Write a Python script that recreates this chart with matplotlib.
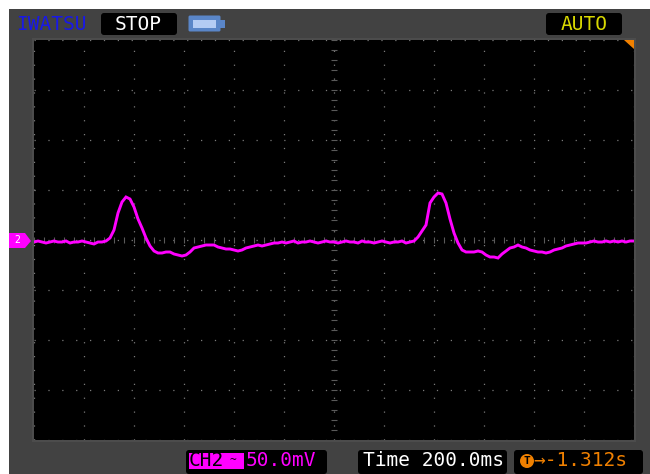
import matplotlib
matplotlib.use("Agg")
import matplotlib.pyplot as plt
import numpy as np
from matplotlib.patches import FancyBboxPatch, Polygon, Rectangle

plt.rcParams['font.family'] = ['DejaVu Sans Mono']

# ========== data ==========
# CH2 in mV (50 mV/div), one sample every 16 ms, 200 ms/div
ch2_mv = [
    -2, -1, -2, -3, -2, -1, -2, -2, -1, -3, -2, -2, -1, -2, -3, -4, -2, -2, -1,
    2, 10, 27, 38, 43, 41, 33, 21, 12, 2, -6, -11, -13, -13, -12, -12, -14, -15, -16, -15,
    -12, -8, -7, -6, -5, -5, -5, -7, -8, -9, -9, -10, -11, -10, -8, -7, -6, -5, -6, -5, -4, -3, -3,
    -2, -3, -2, -1, -3, -2, -2, -1, -2, -3, -2, -1, -2, -2, -3, -2, -1, -2, -2, -3, -1, -2, -2, -3, -2, -1, -2, -3, -2, -2, -1, -3, -2,
    -1, 3, 9, 15, 37, 43, 47, 46, 37, 21, 7, -3, -10, -12, -12, -12, -11, -12, -15, -17, -17, -18, -14, -11, -8,
    -7, -5, -7, -8, -10, -11, -12, -12, -13, -12, -10, -9, -8, -6, -5, -4, -3, -3, -3,
    -2, -1, -2, -2, -1, -2, -1, -2, -1, -2, -1, -1,
]
time_ms = np.arange(len(ch2_mv)) * 16

time_div = 200
volt_div = 50
n_xdiv = 12
n_ydiv = 8

grey = "#424242"
pink = "#ff00ff"
orange = "#f08000"
dots = "#7a7a7a"
label_size = 14

# ========== figure and case ==========
fig = plt.figure(figsize=(6.5, 4.74), dpi=100, facecolor="white")

# overlay in pixels for the case and the status boxes
case = fig.add_axes([0, 0, 1, 1], zorder=1)
case.set_xlim(0, 650)
case.set_ylim(474, 0)
case.axis("off")
case.add_patch(Rectangle((9, 9), 641, 465, color=grey, lw=0))
case.add_patch(Rectangle((32, 38), 604, 404, color="#4c4c4c", lw=0))


def box(x, y, w, h):
    case.add_patch(FancyBboxPatch((x + 3, y + 3), w - 6, h - 6, boxstyle="round,pad=3",
                                  fc="black", ec="none"))


box(101, 13, 76, 22)
box(546, 13, 76, 22)
box(186, 450, 141, 24)
box(358, 450, 149, 24)
box(514, 450, 129, 24)

case.text(16, 24, "IWATSU", color="#1818e8", fontsize=label_size, va="center", ha="left")
case.text(138, 24, "STOP", color="white", fontsize=label_size, va="center", ha="center")
case.text(584, 24, "AUTO", color="#d8d800", fontsize=label_size, va="center", ha="center")

# battery
case.add_patch(FancyBboxPatch((190, 17), 29, 13, boxstyle="round,pad=1.5", fc="#5a86c8", ec="none"))
case.add_patch(Rectangle((219, 20), 6, 8, color="#5a86c8", lw=0))
case.add_patch(Rectangle((193, 20), 23, 8, color="#b4ccf4", lw=0))

# channel and timebase readout
case.add_patch(Rectangle((189, 453), 55, 16, color=pink, lw=0))
case.text(189, 461, "CH2", color="black", fontsize=label_size, va="center", ha="left")
case.text(230, 460, "~", color="black", fontsize=8, va="center", ha="left")
case.text(246, 461, "50.0mV", color=pink, fontsize=label_size, va="center", ha="left")
case.text(363, 461, "Time 200.0ms", color="white", fontsize=label_size, va="center", ha="left")
case.add_patch(plt.Circle((527, 461), 7, color=orange, lw=0))
case.text(527, 461, "T", color="black", fontsize=8, va="center", ha="center", weight="bold")
case.text(533, 461, "→-1.312s", color=orange, fontsize=label_size, va="center", ha="left")

# ground marker on the left edge
case.add_patch(Polygon([(9, 233), (25, 233), (31, 241), (25, 248), (9, 248)], color=pink, lw=0))
case.text(17, 240, "2", color="white", fontsize=7, va="center", ha="center")

# ========== screen ==========
ax = fig.add_axes([34 / 650, 1 - 440 / 474, 600 / 650, 400 / 474], zorder=2)
ax.set_facecolor("black")
ax.set_xlim(0, n_xdiv * time_div)
ax.set_ylim(-n_ydiv * volt_div / 2, n_ydiv * volt_div / 2)
ax.set_xticks(np.arange(0, n_xdiv * time_div + 1, time_div))
ax.set_yticks(np.arange(-n_ydiv * volt_div / 2, n_ydiv * volt_div / 2 + 1, volt_div))
ax.tick_params(length=0, labelbottom=False, labelleft=False)
ax.grid(True, color=dots, lw=0.9, linestyle=(0, (1, 10.1)))
ax.set_axisbelow(True)
for s in ax.spines.values():
    s.set_visible(False)

# centre line ticks, 1/5 div
mid_t = n_xdiv * time_div / 2
ax.vlines(np.arange(0, n_xdiv * time_div + 1, time_div / 5), -3, 3, color="#5a5a5a", lw=0.8)
ax.hlines(np.arange(-n_ydiv * volt_div / 2, n_ydiv * volt_div / 2 + 1, volt_div / 5),
          mid_t - 12, mid_t + 12, color="#5a5a5a", lw=0.8, zorder=1)

ax.plot(time_ms, ch2_mv, color=pink, lw=2.1, solid_joinstyle="miter", zorder=3)

# trigger position corner
ax.add_patch(Polygon([(0.983, 1), (1, 1), (1, 0.978)], transform=ax.transAxes, color=orange, lw=0, zorder=4))

fig.savefig("out.png", dpi=100, facecolor="white")
